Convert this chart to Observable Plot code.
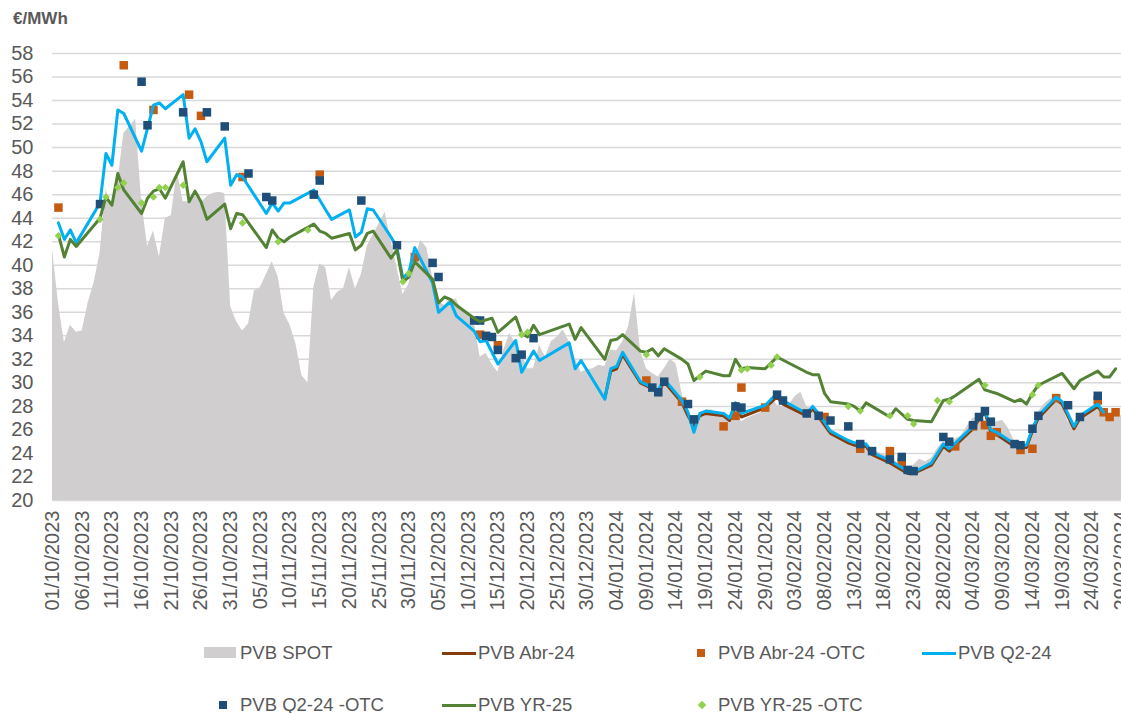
<!DOCTYPE html>
<html>
<head>
<meta charset="utf-8">
<script src="https://cdn.jsdelivr.net/npm/d3@7"></script>
<script src="https://cdn.jsdelivr.net/npm/@observablehq/plot@0.6"></script>
<style>
  html, body { margin: 0; padding: 0; background: #fff; overflow: hidden; }
  #wrap { position: relative; width: 1121px; height: 713px; font-family: "Liberation Sans", Arial, sans-serif; color: #595959; }
  #unit { position: absolute; left: 13px; top: 9px; font-weight: bold; font-size: 17px; }
  #chart { position: absolute; left: 0; top: 0; }
  .leg { position: absolute; font-size: 18.5px; line-height: 22px; white-space: nowrap; }
  .sw { position: absolute; }
</style>
</head>
<body>
<div id="wrap">
  <div id="chart"></div>
  <div id="unit">€/MWh</div>
</div>
<script>
// ---------- DATA ----------
const spotStart = "2023-10-01";
// PVB SPOT, one value per day from 01/10/2023 to 29/03/2024
const spotValues = [
  41.3, 36.8, 33.4, 34.9, 34.3, 34.4, 36.8, 38.5, 41.0, 46.4,
  45.0, 47.0, 51.2, 51.8, 52.4, 45.5, 41.6, 42.9, 40.7, 44.0,
  44.2, 48.0, 45.4, 45.4, 46.0, 45.3, 45.8, 46.1, 46.2, 46.1,
  36.5, 35.2, 34.4, 35.0, 37.8, 38.1, 39.2, 40.3, 39.0, 35.9,
  34.9, 33.3, 30.6, 30.0, 38.1, 40.1, 39.8, 37.0, 37.7, 38.0,
  39.8, 38.0, 39.2, 41.6, 42.6, 43.5, 44.5, 42.1, 39.8, 37.5,
  38.4, 40.5, 42.1, 41.5, 39.0, 36.9, 36.6, 37.1, 37.1, 36.1,
  35.7, 35.2, 32.2, 32.5, 31.6, 30.9, 32.8, 34.2, 33.3, 32.5,
  31.2, 31.2, 33.2, 32.2, 33.5, 33.9, 34.5, 33.5, 32.1, 30.9,
  31.1, 31.2, 31.5, 31.4, 32.8, 32.7, 33.5, 34.8, 37.6, 32.8,
  31.2, 30.8, 30.5, 31.2, 32.0, 31.6, 29.1, 27.1, 25.8, 26.9,
  27.7, 27.7, 27.5, 27.4, 27.2, 27.7, 26.7, 27.0, 27.2, 27.4,
  27.7, 28.8, 28.1, 28.0, 28.1, 28.8, 29.2, 28.0, 27.7, 27.1,
  27.1, 26.0, 25.6, 25.2, 25.0, 24.8, 24.5, 24.4, 24.4, 24.1,
  23.9, 23.5, 23.3, 23.0, 22.7, 23.0, 23.5, 23.3, 23.6, 24.4,
  25.0, 24.7, 25.2, 25.5, 26.3, 27.0, 27.1, 26.8, 26.5, 26.7,
  26.8, 26.1, 25.0, 24.6, 24.6, 26.1, 27.5, 28.2, 28.6, 28.8,
  28.1, 26.7, 26.5, 27.2, 27.4, 27.8, 28.1, 27.4, 27.1, 27.2,
  27.2
];

// PVB Abr-24 (line)
const abr24 = [
  ["2024-01-02",28.7],["2024-01-03",31.0],["2024-01-04",31.2],["2024-01-05",32.4],["2024-01-08",30.0],
  ["2024-01-10",29.5],["2024-01-11",29.2],["2024-01-12",30.1],["2024-01-15",28.3],["2024-01-16",27.2],
  ["2024-01-17",26.3],["2024-01-18",27.2],["2024-01-19",27.4],["2024-01-22",27.2],["2024-01-23",26.8],
  ["2024-01-24",28.0],["2024-01-25",27.1],["2024-01-29",27.9],["2024-01-31",28.8],["2024-02-01",28.2],
  ["2024-02-05",27.2],["2024-02-06",27.8],["2024-02-07",27.1],["2024-02-09",25.7],["2024-02-12",24.9],
  ["2024-02-13",24.7],["2024-02-15",24.6],["2024-02-16",23.9],["2024-02-19",23.2],["2024-02-20",22.9],
  ["2024-02-22",22.3],["2024-02-23",22.3],["2024-02-26",23.0],["2024-02-28",24.6],["2024-02-29",24.2],
  ["2024-03-04",26.1],["2024-03-05",26.9],["2024-03-06",27.5],["2024-03-07",25.8],["2024-03-08",25.6],
  ["2024-03-11",24.6],["2024-03-12",24.5],["2024-03-13",24.5],["2024-03-14",25.9],["2024-03-15",27.0],
  ["2024-03-18",28.6],["2024-03-19",28.2],["2024-03-21",26.1],["2024-03-22",27.0],["2024-03-25",28.0],
  ["2024-03-26",27.3]
];

// PVB Abr-24 -OTC (squares)
const abr24Otc = [
  ["2023-10-02",44.9],["2023-10-13",57.0],["2023-10-18",53.2],["2023-10-24",54.5],["2023-10-26",52.7],
  ["2023-11-02",47.5],["2023-11-15",47.7],["2023-12-01",40.7],["2023-12-12",34.1],["2023-12-15",33.2],
  ["2024-01-09",30.2],["2024-01-15",28.4],["2024-01-22",26.3],["2024-01-24",27.2],["2024-01-25",29.6],
  ["2024-01-29",27.9],["2024-02-08",27.1],["2024-02-14",24.4],["2024-02-19",24.2],["2024-02-21",23.2],
  ["2024-03-01",24.6],["2024-03-04",26.3],["2024-03-06",26.4],["2024-03-07",25.5],["2024-03-08",25.8],
  ["2024-03-12",24.3],["2024-03-14",24.4],["2024-03-18",28.7],["2024-03-25",28.5],["2024-03-26",27.5],
  ["2024-03-27",27.1],["2024-03-28",27.5]
];

// PVB Q2-24 (line)
const q224 = [
  ["2023-10-02",43.6],["2023-10-03",42.2],["2023-10-04",43.0],["2023-10-05",41.9],["2023-10-09",45.3],
  ["2023-10-10",49.5],["2023-10-11",48.5],["2023-10-12",53.2],["2023-10-13",52.9],["2023-10-16",49.7],
  ["2023-10-18",53.6],["2023-10-19",53.8],["2023-10-20",53.3],["2023-10-23",54.5],["2023-10-24",50.8],
  ["2023-10-25",51.6],["2023-10-26",50.5],["2023-10-27",48.8],["2023-10-30",50.8],["2023-10-31",46.8],
  ["2023-11-01",47.7],["2023-11-02",47.5],["2023-11-06",44.4],["2023-11-07",45.3],["2023-11-08",44.6],
  ["2023-11-09",45.3],["2023-11-10",45.3],["2023-11-14",46.4],["2023-11-16",44.7],["2023-11-17",43.9],
  ["2023-11-20",44.7],["2023-11-21",42.4],["2023-11-22",42.8],["2023-11-23",44.8],["2023-11-24",44.7],
  ["2023-11-27",42.4],["2023-11-28",41.5],["2023-11-29",38.9],["2023-11-30",39.4],["2023-12-01",41.5],
  ["2023-12-04",38.5],["2023-12-05",36.0],["2023-12-07",36.9],["2023-12-08",35.7],["2023-12-11",34.4],
  ["2023-12-12",33.5],["2023-12-13",33.6],["2023-12-15",31.6],["2023-12-18",33.6],["2023-12-19",30.9],
  ["2023-12-21",32.7],["2023-12-22",31.9],["2023-12-27",33.4],["2023-12-28",31.2],["2023-12-29",31.9],
  ["2024-01-02",28.6],["2024-01-03",31.2],["2024-01-04",31.4],["2024-01-05",32.6],["2024-01-08",30.1],
  ["2024-01-10",29.6],["2024-01-11",29.4],["2024-01-12",30.3],["2024-01-15",28.5],["2024-01-16",27.5],
  ["2024-01-17",25.8],["2024-01-18",27.4],["2024-01-19",27.6],["2024-01-22",27.4],["2024-01-23",27.0],
  ["2024-01-24",28.3],["2024-01-25",27.4],["2024-01-29",28.1],["2024-01-31",29.1],["2024-02-01",28.5],
  ["2024-02-05",27.4],["2024-02-06",28.0],["2024-02-07",27.4],["2024-02-09",25.9],["2024-02-12",25.1],
  ["2024-02-13",24.9],["2024-02-15",24.8],["2024-02-16",24.1],["2024-02-19",23.4],["2024-02-20",23.1],
  ["2024-02-22",22.5],["2024-02-23",22.4],["2024-02-26",23.2],["2024-02-28",24.8],["2024-02-29",24.4],
  ["2024-03-04",26.3],["2024-03-05",27.1],["2024-03-06",27.7],["2024-03-07",26.0],["2024-03-08",25.8],
  ["2024-03-11",24.8],["2024-03-12",24.7],["2024-03-13",24.7],["2024-03-14",26.1],["2024-03-15",27.2],
  ["2024-03-18",28.8],["2024-03-19",28.4],["2024-03-21",26.3],["2024-03-22",27.2],["2024-03-25",28.2],
  ["2024-03-26",27.5]
];

// PVB Q2-24 -OTC (squares)
const q224Otc = [
  ["2023-10-09",45.2],["2023-10-16",55.6],["2023-10-17",51.9],["2023-10-23",53.0],["2023-10-27",53.0],
  ["2023-10-30",51.8],["2023-11-03",47.8],["2023-11-06",45.8],["2023-11-07",45.5],["2023-11-14",46.0],
  ["2023-11-15",47.2],["2023-11-22",45.5],["2023-11-28",41.7],["2023-12-04",40.2],["2023-12-05",39.0],
  ["2023-12-11",35.3],["2023-12-12",35.3],["2023-12-13",34.0],["2023-12-14",33.9],["2023-12-15",32.8],
  ["2023-12-18",32.1],["2023-12-19",32.4],["2023-12-21",33.8],["2024-01-10",29.6],["2024-01-11",29.2],
  ["2024-01-12",30.1],["2024-01-16",28.2],["2024-01-17",26.9],["2024-01-24",28.0],["2024-01-25",27.9],
  ["2024-01-31",29.0],["2024-02-01",28.5],["2024-02-05",27.4],["2024-02-07",27.2],["2024-02-09",26.8],
  ["2024-02-12",26.3],["2024-02-14",24.8],["2024-02-16",24.2],["2024-02-19",23.5],["2024-02-21",23.7],
  ["2024-02-22",22.6],["2024-02-23",22.5],["2024-02-28",25.4],["2024-02-29",25.0],["2024-03-04",26.4],
  ["2024-03-05",27.1],["2024-03-06",27.6],["2024-03-07",26.7],["2024-03-11",24.8],["2024-03-12",24.7],
  ["2024-03-14",26.1],["2024-03-15",27.2],["2024-03-20",28.1],["2024-03-22",27.1],["2024-03-25",28.9]
];

// PVB YR-25 (line)
const yr25 = [
  ["2023-10-02",42.6],["2023-10-03",40.7],["2023-10-04",42.2],["2023-10-05",41.6],["2023-10-09",44.0],
  ["2023-10-10",45.8],["2023-10-11",45.1],["2023-10-12",47.8],["2023-10-13",46.4],["2023-10-16",44.4],
  ["2023-10-17",45.7],["2023-10-18",46.3],["2023-10-19",46.5],["2023-10-20",45.7],["2023-10-23",48.8],
  ["2023-10-24",45.4],["2023-10-25",46.3],["2023-10-26",45.4],["2023-10-27",43.9],["2023-10-30",45.2],
  ["2023-10-31",43.1],["2023-11-01",44.4],["2023-11-02",44.3],["2023-11-06",41.5],["2023-11-07",43.0],
  ["2023-11-08",42.3],["2023-11-09",42.0],["2023-11-10",42.4],["2023-11-14",43.5],["2023-11-15",42.9],
  ["2023-11-16",42.7],["2023-11-17",42.3],["2023-11-20",42.7],["2023-11-21",41.3],["2023-11-22",41.7],
  ["2023-11-23",42.7],["2023-11-24",42.9],["2023-11-27",40.6],["2023-11-28",41.3],["2023-11-29",38.6],
  ["2023-11-30",39.0],["2023-12-01",40.3],["2023-12-04",38.8],["2023-12-05",36.8],["2023-12-06",37.3],
  ["2023-12-07",37.1],["2023-12-08",36.6],["2023-12-11",35.5],["2023-12-12",35.2],["2023-12-14",35.5],
  ["2023-12-15",34.3],["2023-12-18",35.6],["2023-12-19",34.2],["2023-12-20",33.9],["2023-12-21",34.9],
  ["2023-12-22",34.1],["2023-12-27",35.0],["2023-12-28",33.7],["2023-12-29",34.7],["2024-01-02",32.0],
  ["2024-01-03",33.6],["2024-01-04",33.7],["2024-01-05",34.1],["2024-01-08",32.7],["2024-01-09",32.6],
  ["2024-01-10",32.9],["2024-01-11",32.3],["2024-01-12",32.9],["2024-01-15",32.0],["2024-01-16",31.6],
  ["2024-01-17",30.2],["2024-01-19",31.0],["2024-01-22",30.6],["2024-01-23",30.6],["2024-01-24",32.0],
  ["2024-01-25",31.2],["2024-01-26",31.3],["2024-01-29",31.2],["2024-01-31",32.2],["2024-02-05",30.9],
  ["2024-02-06",30.7],["2024-02-07",30.7],["2024-02-08",29.1],["2024-02-09",28.4],["2024-02-12",28.2],
  ["2024-02-13",28.0],["2024-02-14",27.6],["2024-02-15",28.3],["2024-02-19",27.1],["2024-02-20",27.8],
  ["2024-02-22",26.9],["2024-02-23",26.8],["2024-02-26",26.7],["2024-02-28",28.5],["2024-02-29",28.6],
  ["2024-03-01",28.9],["2024-03-05",30.3],["2024-03-06",29.4],["2024-03-08",29.1],["2024-03-11",28.4],
  ["2024-03-12",28.6],["2024-03-13",28.2],["2024-03-14",29.1],["2024-03-15",29.8],["2024-03-19",30.8],
  ["2024-03-21",29.5],["2024-03-22",30.2],["2024-03-25",31.0],["2024-03-26",30.5],["2024-03-27",30.5],
  ["2024-03-28",31.2]
];

// PVB YR-25 -OTC (diamonds)
const yr25Otc = [
  ["2023-10-02",42.5],["2023-10-09",43.9],["2023-10-10",45.8],["2023-10-12",46.6],["2023-10-13",47.0],
  ["2023-10-16",45.3],["2023-10-18",45.8],["2023-10-19",46.6],["2023-10-20",46.6],["2023-10-23",46.8],
  ["2023-11-02",43.6],["2023-11-08",42.0],["2023-11-13",43.0],["2023-11-29",38.6],["2023-11-30",39.3],
  ["2023-12-19",34.1],["2023-12-20",34.3],["2024-01-09",32.4],["2024-01-18",30.5],["2024-01-25",31.1],
  ["2024-01-26",31.2],["2024-01-30",31.5],["2024-01-31",32.2],["2024-02-12",28.0],["2024-02-14",27.6],
  ["2024-02-19",27.2],["2024-02-22",27.2],["2024-02-23",26.5],["2024-02-27",28.5],["2024-02-29",28.4],
  ["2024-03-06",29.8],["2024-03-14",29.0],["2024-03-15",29.8]
];

// Axis
const yTicks = [20, 22, 24, 26, 28, 30, 32, 34, 36, 38, 40, 42, 44, 46, 48, 50, 52, 54, 56, 58];
const xFirst = "2023-10-01";
const xLast = "2024-03-29";
const xTickStepDays = 5;

// Legend
const legendItems = [
  {label: "PVB SPOT", kind: "area", color: "#d0cece"},
  {label: "PVB Abr-24", kind: "line", color: "#843c0c"},
  {label: "PVB Abr-24 -OTC", kind: "square", color: "#c55a11"},
  {label: "PVB Q2-24", kind: "line", color: "#00b0f0"},
  {label: "PVB Q2-24 -OTC", kind: "square", color: "#1f4e79"},
  {label: "PVB YR-25", kind: "line", color: "#548235"},
  {label: "PVB YR-25 -OTC", kind: "diamond", color: "#92d050"}
];

// ---------- BUILD ----------
const parse = d3.utcParse("%Y-%m-%d");
const rows = arr => arr.map(([d, v]) => ({date: parse(d), value: v}));
const spot = spotValues.map((v, i) => ({date: d3.utcDay.offset(parse(spotStart), i), value: v}));
const xDomain = [parse(xFirst), parse(xLast)];
const xTicks = d3.utcDay.range(xDomain[0], d3.utcDay.offset(xDomain[1], 1), xTickStepDays);
const fmt = d3.utcFormat("%d/%m/%Y");
const col = Object.fromEntries(legendItems.map(d => [d.label, d.color]));

const chart = Plot.plot({
  width: 1121,
  height: 630,
  marginLeft: 52,
  marginRight: 0,
  marginTop: 53,
  marginBottom: 130,
  style: {fontFamily: "'Liberation Sans', Arial, sans-serif", fontSize: "20px", color: "#595959", background: "transparent", overflow: "visible"},
  x: {type: "utc", domain: xDomain},
  y: {domain: [yTicks[0], yTicks[yTicks.length - 1]]},
  marks: [
    Plot.gridY(yTicks, {stroke: "#d9d9d9", strokeOpacity: 1, strokeWidth: 1.5}),
    Plot.areaY(spot, {x: "date", y1: yTicks[0], y2: "value", fill: col["PVB SPOT"]}),
    Plot.line(rows(abr24), {x: "date", y: "value", stroke: col["PVB Abr-24"], strokeWidth: 3}),
    Plot.dot(rows(abr24Otc), {x: "date", y: "value", symbol: "square", r: 4.8, fill: col["PVB Abr-24 -OTC"], stroke: null}),
    Plot.line(rows(q224), {x: "date", y: "value", stroke: col["PVB Q2-24"], strokeWidth: 3}),
    Plot.dot(rows(q224Otc), {x: "date", y: "value", symbol: "square", r: 4.8, fill: col["PVB Q2-24 -OTC"], stroke: null}),
    Plot.line(rows(yr25), {x: "date", y: "value", stroke: col["PVB YR-25"], strokeWidth: 3}),
    Plot.dot(rows(yr25Otc), {x: "date", y: "value", symbol: "diamond2", r: 3.4, fill: col["PVB YR-25 -OTC"], stroke: null}),
    Plot.axisY(yTicks, {tickSize: 0, tickPadding: 19, fontSize: 20, label: null}),
    Plot.axisX(xTicks, {tickSize: 0, tickPadding: 10, tickRotate: -90, tickFormat: fmt, fontSize: 20, label: null})
  ]
});
document.getElementById("chart").appendChild(chart);

// Legend (HTML)
const legendCols = [240, 478, 718, 958];
const legendRows = [653, 705];
const wrap = document.getElementById("wrap");
legendItems.forEach((it, i) => {
  const cx = legendCols[i % 4];
  const cy = legendRows[Math.floor(i / 4)];
  const sw = document.createElement("div");
  sw.className = "sw";
  if (it.kind === "area") {
    Object.assign(sw.style, {left: (cx - 36) + "px", top: (cy - 6) + "px", width: "32px", height: "11px", background: it.color});
  } else if (it.kind === "line") {
    Object.assign(sw.style, {left: (cx - 36) + "px", top: (cy - 1.5) + "px", width: "34px", height: "3px", background: it.color});
  } else if (it.kind === "square") {
    Object.assign(sw.style, {left: (cx - 21) + "px", top: (cy - 4) + "px", width: "8px", height: "8px", background: it.color});
  } else {
    Object.assign(sw.style, {left: (cx - 19) + "px", top: (cy - 3) + "px", width: "6px", height: "6px", background: it.color, transform: "rotate(45deg)"});
  }
  wrap.appendChild(sw);
  const t = document.createElement("div");
  t.className = "leg";
  t.textContent = it.label;
  Object.assign(t.style, {left: cx + "px", top: (cy - 11) + "px"});
  wrap.appendChild(t);
});
</script>
</body>
</html>
